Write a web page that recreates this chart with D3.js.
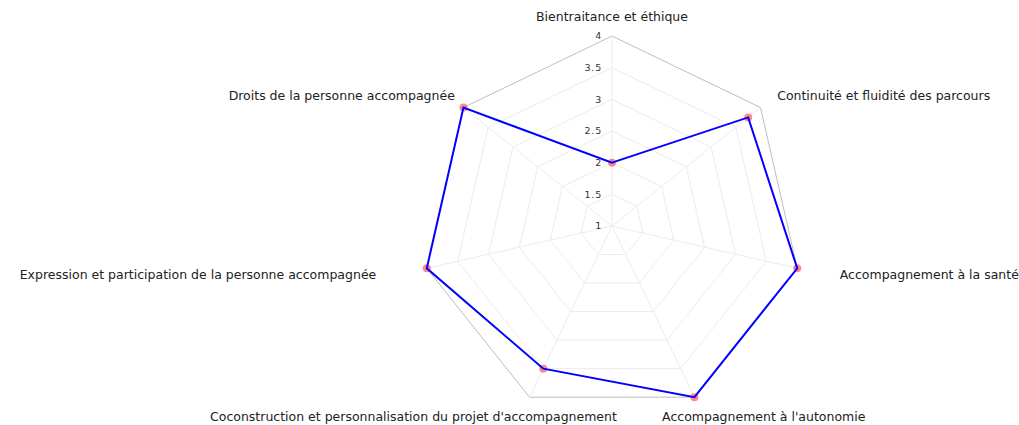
<!DOCTYPE html>
<html>
<head>
<meta charset="utf-8">
<script src="https://cdn.jsdelivr.net/npm/d3@7"></script>
<style>
  html, body { margin: 0; padding: 0; background: #fff; }
  svg { display: block; font-family: "DejaVu Sans", sans-serif; }
</style>
</head>
<body>
<div id="chart"></div>
<script>
// Data
var axes = [
  "Bientraitance et éthique",
  "Continuité et fluidité des parcours",
  "Accompagnement à la santé",
  "Accompagnement à l'autonomie",
  "Coconstruction et personnalisation du projet d'accompagnement",
  "Expression et participation de la personne accompagnée",
  "Droits de la personne accompagnée"
];
var scores = [2, 3.75, 4, 4, 3.5, 4, 4];
var tickValues = [1, 1.5, 2, 2.5, 3, 3.5, 4];

var w = 1019, h = 425;
var cx = 612, cy = 226, radius = 190;

// label nudges so the axis names sit where the original put them
var labelDx = [0, 1, 23, -41, 96, -31, 7];
var labelDy = [1, 1, 2, 1, 1, 2, 1];

var svg = d3.select("#chart").append("svg")
    .attr("width", w)
    .attr("height", h);

var g = svg.append("g").attr("transform", `translate(${cx}, ${cy})`);

var rScale = d3.scaleLinear().domain([1, 4]).range([0, radius]);
var angle = function(i) { return i * 2 * Math.PI / axes.length; };
var px = function(i, r) { return Math.sin(angle(i)) * r; };
var py = function(i, r) { return -Math.cos(angle(i)) * r; };

// Grid rings
tickValues.slice(1).forEach(function(t) {
  var pts = axes.map(function(a, i) { return [px(i, rScale(t)), py(i, rScale(t))]; });
  g.append("polygon")
    .attr("points", pts.map(function(p) { return p.join(","); }).join(" "))
    .attr("fill", "none")
    .attr("stroke", t === 4 ? "#bdbdbd" : "#ececec")
    .attr("stroke-width", 1);
});

// Spokes
g.selectAll(".spoke")
  .data(axes)
  .enter()
  .append("line")
  .attr("class", "spoke")
  .attr("x1", 0).attr("y1", 0)
  .attr("x2", function(d, i) { return px(i, radius); })
  .attr("y2", function(d, i) { return py(i, radius); })
  .attr("stroke", "#ececec")
  .attr("stroke-width", 1);

// Tick labels
g.selectAll(".tick-label")
  .data(tickValues)
  .enter()
  .append("text")
  .attr("class", "tick-label")
  .attr("x", -10)
  .attr("y", function(d) { return -rScale(d); })
  .attr("dy", "0.35em")
  .attr("text-anchor", "end")
  .style("font-size", "9.5px")
  .style("letter-spacing", "0.8px")
  .attr("fill", "#333")
  .text(function(d) { return d; });

// Axis names
g.selectAll(".axis-label")
  .data(axes)
  .enter()
  .append("text")
  .attr("class", "axis-label")
  .attr("x", function(d, i) { return px(i, radius + 20) + labelDx[i]; })
  .attr("y", function(d, i) { return py(i, radius + 20) + labelDy[i]; })
  .attr("dy", "0.35em")
  .attr("text-anchor", function(d, i) {
    var s = Math.sin(angle(i));
    return Math.abs(s) < 0.01 ? "middle" : (s > 0 ? "start" : "end");
  })
  .style("font-size", "12.5px")
  .attr("fill", "#222")
  .text(function(d) { return d; });

// Points
g.selectAll(".dot")
  .data(scores)
  .enter()
  .append("circle")
  .attr("class", "dot")
  .attr("cx", function(d, i) { return px(i, rScale(d)); })
  .attr("cy", function(d, i) { return py(i, rScale(d)); })
  .attr("r", 4)
  .attr("fill", "rgba(255, 60, 60, 0.6)");

// Score line
var line = d3.lineRadial()
  .angle(function(d, i) { return angle(i); })
  .radius(function(d) { return rScale(d); })
  .curve(d3.curveLinearClosed);

g.append("path")
  .datum(scores)
  .attr("d", line)
  .attr("fill", "none")
  .attr("stroke", "#0000ff")
  .attr("stroke-width", 2);
</script>
</body>
</html>
